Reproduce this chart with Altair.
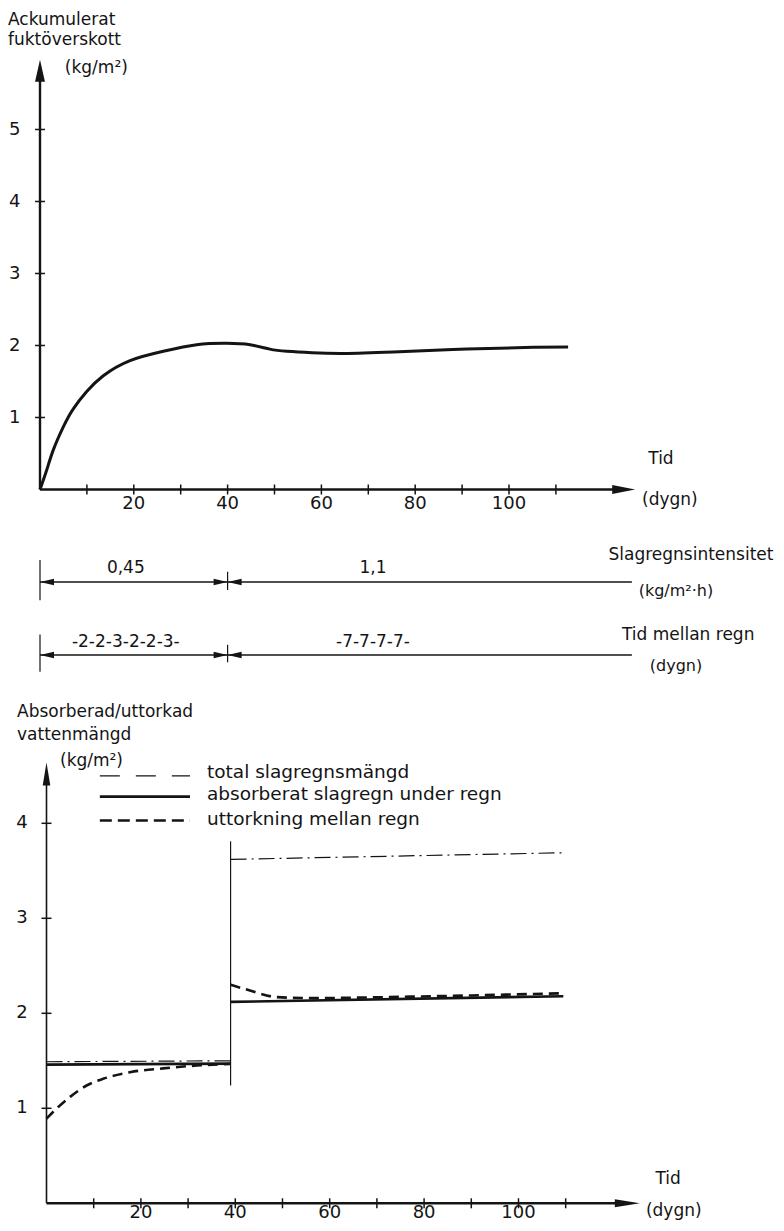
import altair as alt
import pandas as pd

INK = "#141414"
FONT = "DejaVu Sans"

# ---------------- top chart: accumulated moisture surplus ----------------
top_days = [0, 1.43, 2.84, 4.97, 7.1, 9.96, 13.5, 19.2, 26.3, 33.4, 39.8, 44.8,
            49.0, 52.6, 58.0, 64.7, 75.3, 91.0, 105.2, 112.6]
top_vals = [0, 0.27, 0.55, 0.87, 1.12, 1.36, 1.58, 1.79, 1.92, 2.01, 2.03, 2.01,
            1.95, 1.92, 1.90, 1.89, 1.91, 1.95, 1.975, 1.98]
top_xticks = [10, 20, 30, 40, 50, 60, 70, 80, 90, 100, 110]
top_xlabels = [20, 40, 60, 80, 100]
top_yticks = [1, 2, 3, 4, 5]
top_x_end = 126.9
top_y_end = 5.97

# ---------------- annotation rows ----------------
row_values = [1, 2]
row_end = 126.2
split_day = 40
row1_labels = ["0,45", "1,1"]
row2_labels = ["-2-2-3-2-2-3-", "-7-7-7-7-"]
row_label_days = [18.3, 71.0]

# ---------------- bottom chart: absorbed / dried water ----------------
total_left_days = [0, 39]
total_left_vals = [1.49, 1.50]
total_right_days = [39, 109.5]
total_right_vals = [3.62, 3.69]
abs_left_days = [0, 39]
abs_left_vals = [1.46, 1.47]
abs_right_days = [39, 109.5]
abs_right_vals = [2.12, 2.18]
dry_left_days = [0, 2.2, 5.0, 8.5, 12.0, 17.7, 24.7, 31.8, 38.9]
dry_left_vals = [0.89, 1.0, 1.12, 1.24, 1.31, 1.38, 1.42, 1.45, 1.467]
dry_right_days = [39, 43.1, 48.8, 55.8, 77.0, 108.8]
dry_right_vals = [2.30, 2.24, 2.17, 2.16, 2.175, 2.21]
divider_day = 39
divider_range = [1.24, 3.81]
bot_xticks = [10, 20, 30, 40, 50, 60, 70, 80, 90, 100, 110]
bot_xlabels = [20, 40, 60, 80, 100]
bot_yticks = [1, 2, 3, 4]
bot_x_end = 125.7
bot_y_end = 4.64
legend_labels = ["total slagregnsmängd", "absorberat slagregn under regn", "uttorkning mellan regn"]
legend_rows = [4.50, 4.28, 4.03]
legend_span = [11.3, 30.4]

# ---------------- scales (plot area 768 x 1215) ----------------
XS_TOP = alt.Scale(domain=[-6.823, 156.93], nice=False, zero=False)
YS_TOP = alt.Scale(domain=[-10.1875, 6.6875], nice=False, zero=False)
YS_ROW = alt.Scale(domain=[-6.863, 9.781], nice=False, zero=False, reverse=True)
XS_BOT = alt.Scale(domain=[-8.157, 154.56], nice=False, zero=False)
YS_BOT = alt.Scale(domain=[-0.2074, 12.582], nice=False, zero=False)


def enc_xy(xs, ys, xf="x", yf="y"):
    return dict(x=alt.X(f"{xf}:Q", scale=xs, axis=None),
                y=alt.Y(f"{yf}:Q", scale=ys, axis=None))


def line(days, vals, xs, ys, width, dash=None, interp="linear"):
    kw = dict(color=INK, strokeWidth=width, interpolate=interp, strokeCap="butt")
    if dash:
        kw["strokeDash"] = dash
    df = pd.DataFrame({"x": days, "y": vals})
    return alt.Chart(df).mark_line(**kw).encode(**enc_xy(xs, ys))


def hrule(x0, x1, y, xs, ys, width):
    df = pd.DataFrame({"x": [x0], "x2": [x1], "y": [y]})
    return alt.Chart(df).mark_rule(color=INK, strokeWidth=width, strokeCap="butt").encode(
        x=alt.X("x:Q", scale=xs, axis=None), x2="x2:Q",
        y=alt.Y("y:Q", scale=ys, axis=None))


def vrule(x, y0, y1, xs, ys, width):
    df = pd.DataFrame({"x": [x], "y": [y0], "y2": [y1]})
    return alt.Chart(df).mark_rule(color=INK, strokeWidth=width, strokeCap="butt").encode(
        x=alt.X("x:Q", scale=xs, axis=None),
        y=alt.Y("y:Q", scale=ys, axis=None), y2="y2:Q")


def ticks(xvals, yvals, xs, ys, orient):
    df = pd.DataFrame({"x": xvals, "y": yvals})
    return alt.Chart(df).mark_tick(color=INK, orient=orient, size=10, thickness=1.5,
                                   opacity=1).encode(**enc_xy(xs, ys))


def arrow(x, y, xs, ys, shape, size):
    df = pd.DataFrame({"x": [x], "y": [y]})
    return alt.Chart(df).mark_point(shape=shape, size=size, filled=True, color=INK,
                                    opacity=1, strokeWidth=0).encode(**enc_xy(xs, ys))


def txt(labels, xvals, yvals, xs, ys, size=17, align="center", dy=0):
    df = pd.DataFrame({"x": xvals, "y": yvals, "t": labels})
    return alt.Chart(df).mark_text(font=FONT, fontSize=size, align=align, baseline="middle",
                                   dy=dy, color=INK).encode(text="t:N", **enc_xy(xs, ys))


UP = "M0,0L0.45,2L-0.45,2Z"
RIGHT = "M0,0L-2,-0.4L-2,0.4Z"
SMALL_L = "M0,0L2,-0.45L2,0.45Z"
SMALL_R = "M0,0L-2,-0.45L-2,0.45Z"

# ---------------- top chart layers ----------------
top = alt.layer(
    vrule(0, 0, top_y_end - 0.2, XS_TOP, YS_TOP, 2.4),
    hrule(0, top_x_end - 3, 0, XS_TOP, YS_TOP, 2.6),
    arrow(0, top_y_end, XS_TOP, YS_TOP, UP, 484),
    arrow(top_x_end, 0, XS_TOP, YS_TOP, RIGHT, 529),
    ticks(top_xticks, [0] * len(top_xticks), XS_TOP, YS_TOP, "vertical"),
    ticks([0] * len(top_yticks), top_yticks, XS_TOP, YS_TOP, "horizontal"),
    line(top_days, top_vals, XS_TOP, YS_TOP, 3.0, interp="natural"),
    txt([str(v) for v in top_xlabels], top_xlabels, [0] * len(top_xlabels), XS_TOP, YS_TOP, size=18, dy=14),
    txt([str(v) for v in top_yticks], [-5.4] * len(top_yticks), top_yticks, XS_TOP, YS_TOP, size=18),
    txt(["Ackumulerat", "fuktöverskott"], [-6.82, -6.82], [6.52, 6.245], XS_TOP, YS_TOP, size=17, align="left"),
    txt(["(kg/m²)"], [5.3], [5.854], XS_TOP, YS_TOP, size=17, align="left"),
    txt(["Tid"], [132.4], [0.424], XS_TOP, YS_TOP, size=17),
    txt(["(dygn)"], [134.3], [-0.146], XS_TOP, YS_TOP, size=17),
)

# ---------------- annotation rows ----------------
annot_layers = []
for r in row_values:
    annot_layers.append(hrule(0, row_end, r, XS_TOP, YS_ROW, 1.3))
    annot_layers.append(arrow(0, r, XS_TOP, YS_ROW, SMALL_L, 196))
    annot_layers.append(arrow(split_day, r, XS_TOP, YS_ROW, SMALL_R, 196))
    annot_layers.append(arrow(split_day, r, XS_TOP, YS_ROW, SMALL_L, 196))
annot_layers += [
    vrule(0, 0.70, 1.25, XS_TOP, YS_ROW, 1.2),
    vrule(split_day, 0.86, 1.11, XS_TOP, YS_ROW, 1.2),
    vrule(0, 1.72, 2.23, XS_TOP, YS_ROW, 1.2),
    vrule(split_day, 1.86, 2.10, XS_TOP, YS_ROW, 1.2),
    txt(row1_labels, row_label_days, [1, 1], XS_TOP, YS_ROW, size=17, dy=-14),
    txt(row2_labels, row_label_days, [2, 2], XS_TOP, YS_ROW, size=17, dy=-13),
    txt(["Slagregnsintensitet"], [138.8], [1], XS_TOP, YS_ROW, size=17, dy=-27),
    txt(["(kg/m²·h)"], [135.6], [1], XS_TOP, YS_ROW, size=16, dy=9),
    txt(["Tid  mellan regn"], [138.2], [2], XS_TOP, YS_ROW, size=17, dy=-20),
    txt(["(dygn)"], [135.6], [2], XS_TOP, YS_ROW, size=16, dy=11),
]
annot = alt.layer(*annot_layers)

# ---------------- bottom chart layers ----------------
DASHDOT = [16, 5, 2, 5]
DASH = [10, 6]
bottom = alt.layer(
    vrule(0, 0, bot_y_end - 0.2, XS_BOT, YS_BOT, 1.6),
    hrule(0, bot_x_end - 3, 0, XS_BOT, YS_BOT, 2.6),
    arrow(0, bot_y_end, XS_BOT, YS_BOT, "M0,0L0.33,2L-0.33,2Z", 529),
    arrow(bot_x_end, 0, XS_BOT, YS_BOT, "M0,0L-2,-0.32L-2,0.32Z", 625),
    ticks(bot_xticks, [0] * len(bot_xticks), XS_BOT, YS_BOT, "vertical"),
    ticks([0] * len(bot_yticks), bot_yticks, XS_BOT, YS_BOT, "horizontal"),
    vrule(divider_day, divider_range[0], divider_range[1], XS_BOT, YS_BOT, 1.2),
    line(total_left_days, total_left_vals, XS_BOT, YS_BOT, 1.2, dash=DASHDOT),
    line(total_right_days, total_right_vals, XS_BOT, YS_BOT, 1.2, dash=DASHDOT),
    line(abs_left_days, abs_left_vals, XS_BOT, YS_BOT, 2.6),
    line(abs_right_days, abs_right_vals, XS_BOT, YS_BOT, 2.6),
    line(dry_left_days, dry_left_vals, XS_BOT, YS_BOT, 2.6, dash=DASH, interp="monotone"),
    line(dry_right_days, dry_right_vals, XS_BOT, YS_BOT, 2.6, dash=DASH, interp="monotone"),
    # legend keys
    line(legend_span, [legend_rows[0]] * 2, XS_BOT, YS_BOT, 1.2, dash=[20, 16]),
    line(legend_span, [legend_rows[1]] * 2, XS_BOT, YS_BOT, 2.8),
    line(legend_span, [legend_rows[2]] * 2, XS_BOT, YS_BOT, 2.6, dash=[12, 6]),
    txt(legend_labels, [34.0] * 3, [4.54, 4.31, 4.045], XS_BOT, YS_BOT, size=18.5, align="left"),
    txt([str(v) for v in bot_xlabels], bot_xlabels, [0] * len(bot_xlabels), XS_BOT, YS_BOT, size=18, dy=10),
    txt([str(v) for v in bot_yticks], [-5.2] * len(bot_yticks), bot_yticks, XS_BOT, YS_BOT, size=18),
    txt(["Absorberad/uttorkad", "vattenmängd"], [-6.25, -6.25], [5.17, 4.93], XS_BOT, YS_BOT, size=17, align="left"),
    txt(["(kg/m²)"], [2.86], [4.66], XS_BOT, YS_BOT, size=17, align="left"),
    txt(["Tid"], [131.7], [0.256], XS_BOT, YS_BOT, size=17),
    txt(["(dygn)"], [132.9], [-0.08], XS_BOT, YS_BOT, size=17),
)

chart = alt.layer(top, annot, bottom).resolve_scale(
    x="independent", y="independent"
).properties(
    width=768, height=1215, padding=0,
    autosize=alt.AutoSizeParams(type="none"),
    background="white",
).configure_view(stroke=None)

chart.save("out.html", embed_options={"renderer": "svg", "actions": False})
